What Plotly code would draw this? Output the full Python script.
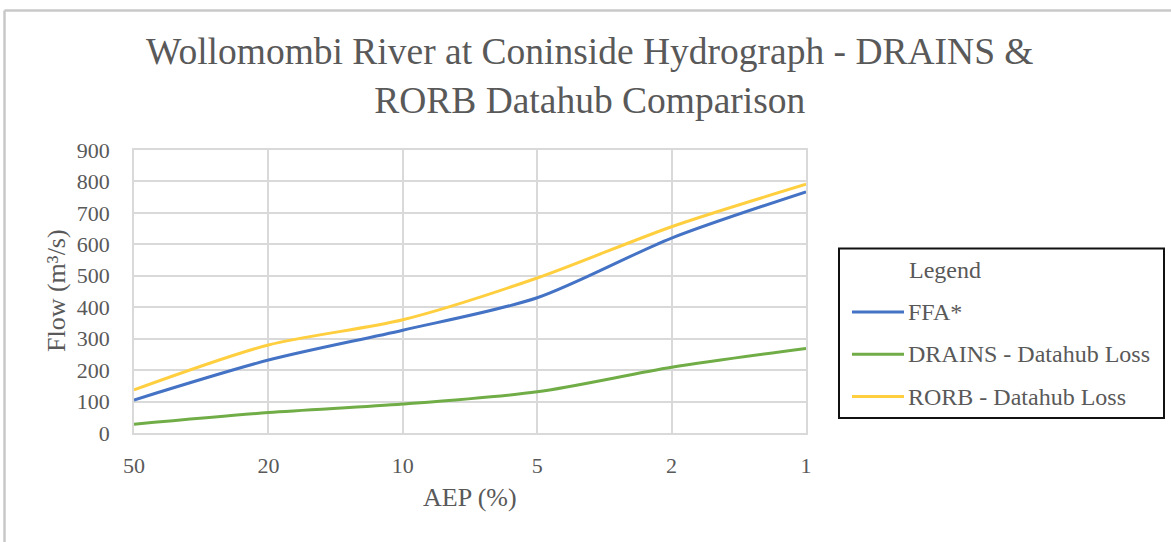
import plotly.graph_objects as go

# AEP categories (%) and peak flows (m³/s)
aep_labels = ["50", "20", "10", "5", "2", "1"]
ffa_flow = [105, 232, 327, 430, 620, 767]
drains_flow = [28, 65, 92, 131, 209, 269]
rorb_flow = [137, 280, 360, 493, 656, 791]

series_names = ["FFA*", "DRAINS - Datahub Loss", "RORB - Datahub Loss"]
series_values = [ffa_flow, drains_flow, rorb_flow]
series_colors = ["#4472C4", "#70AD47", "#FFCF3F"]

y_ticks = list(range(0, 901, 100))

FONT = "Liberation Serif"
TEXT = "#595959"

# plot-area geometry in pixels
W, H = 1171, 542
L, R, T, B = 134, 806, 150, 433


def px(x):
    return (x - L) / (R - L)


def py(y):
    return (B - y) / (B - T)


fig = go.Figure()
for name, vals, col in zip(series_names, series_values, series_colors):
    fig.add_trace(go.Scatter(
        x=aep_labels, y=vals, name=name, mode="lines",
        line=dict(color=col, width=3, shape="spline", smoothing=0.8),
        showlegend=False,
    ))

shapes = []
annotations = []

# outer chart border (top and left edges)
shapes.append(dict(type="line", xref="paper", yref="paper",
                   x0=px(4.5), x1=px(W + 5), y0=py(10.5), y1=py(10.5),
                   line=dict(color="#C8C8C8", width=2.5)))
shapes.append(dict(type="line", xref="paper", yref="paper",
                   x0=px(4.5), x1=px(4.5), y0=py(10.5), y1=py(H + 5),
                   line=dict(color="#C8C8C8", width=2.5)))

# legend box
shapes.append(dict(type="rect", xref="paper", yref="paper",
                   x0=px(839), x1=px(1164), y0=py(418), y1=py(248.5),
                   line=dict(color="#111111", width=2), fillcolor="white"))
annotations.append(dict(text="Legend", xref="paper", yref="paper",
                        x=px(907), y=py(270), xanchor="left", yanchor="middle",
                        showarrow=False, font=dict(family=FONT, size=24, color=TEXT)))
for i, (name, col) in enumerate(zip(series_names, series_colors)):
    yy = py(312 + i * 42.3)
    shapes.append(dict(type="line", xref="paper", yref="paper",
                       x0=px(852), x1=px(904), y0=yy, y1=yy,
                       line=dict(color=col, width=3)))
    annotations.append(dict(text=name, xref="paper", yref="paper",
                            x=px(906), y=yy, xanchor="left", yanchor="middle",
                            showarrow=False, font=dict(family=FONT, size=24, color=TEXT)))

# title
annotations.append(dict(
    text="Wollomombi River at Coninside Hydrograph - DRAINS &<br>RORB Datahub Comparison",
    xref="paper", yref="paper", x=px(590), y=py(76), xanchor="center", yanchor="middle",
    showarrow=False, align="center",
    font=dict(family=FONT, size=37.5, color=TEXT)))

# axis titles
annotations.append(dict(text="AEP (%)", xref="paper", yref="paper",
                        x=px(470), y=py(497), xanchor="center", yanchor="middle",
                        showarrow=False, font=dict(family=FONT, size=26, color=TEXT)))
annotations.append(dict(text="Flow (m³/s)", xref="paper", yref="paper",
                        x=px(56), y=py(291), xanchor="center", yanchor="middle",
                        textangle=-90, showarrow=False,
                        font=dict(family=FONT, size=26, color=TEXT)))

fig.update_layout(
    width=W, height=H,
    margin=dict(l=L, r=W - R, t=T, b=H - B, pad=0),
    paper_bgcolor="white", plot_bgcolor="white",
    font=dict(family=FONT, size=22, color=TEXT),
    shapes=shapes, annotations=annotations,
    showlegend=False,
)
fig.update_xaxes(
    type="category", range=[0, len(aep_labels) - 1],
    showgrid=True, gridcolor="#D9D9D9", gridwidth=1.5,
    showline=True, linecolor="#D9D9D9", linewidth=1.5, mirror=True,
    ticks="", ticklen=0, ticklabelstandoff=12,
    tickfont=dict(family=FONT, size=22, color=TEXT),
)
fig.update_yaxes(
    range=[0, 900], tickvals=y_ticks,
    showgrid=True, gridcolor="#D9D9D9", gridwidth=1.5,
    showline=True, linecolor="#D9D9D9", linewidth=1.5, mirror=True,
    zeroline=False, ticks="", ticklabelstandoff=18,
    tickfont=dict(family=FONT, size=22, color=TEXT),
)

fig.write_html("out.html")
